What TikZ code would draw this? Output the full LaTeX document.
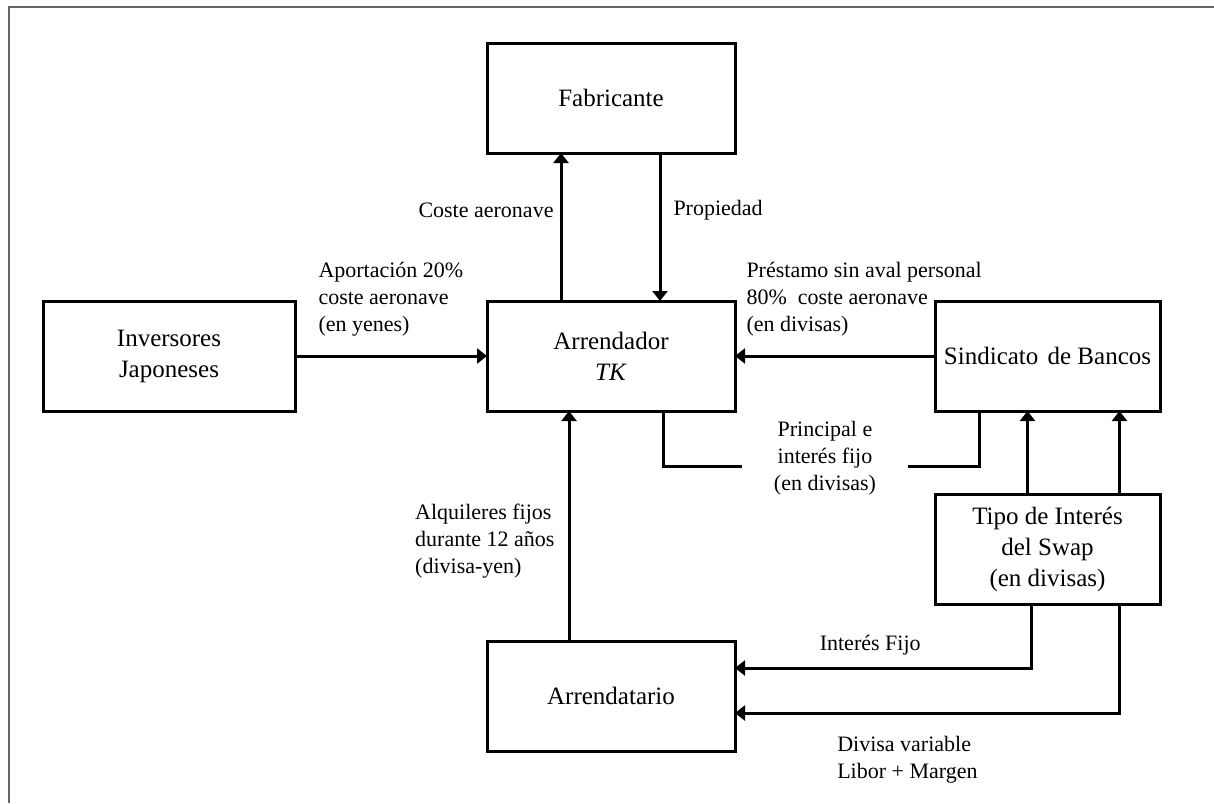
\documentclass[tikz,border=0pt]{standalone}
\usepackage{fontspec}
\setmainfont{Liberation Serif}
\usetikzlibrary{positioning, arrows.meta}

\begin{document}
\begin{tikzpicture}[
        x=1pt, y=-1pt,
        box/.style={draw, line width=3pt, outer sep=0pt, minimum height=110pt,
                    align=center, font=\fontsize{25}{31}\selectfont},
        wbox/.style={box, minimum width=248pt},
        nbox/.style={box, minimum width=225pt},
        lbl/.style={inner sep=0pt, align=left, font=\fontsize{22}{27}\selectfont},
        flow/.style={line width=3pt, -{Triangle[length=10pt, width=15pt]}},
        link/.style={line width=3pt},
        frame/.style={line width=1.8pt, draw=black!60},
    ]
        \useasboundingbox (0,0) rectangle (1214,803);
        \draw[frame] (1214,7) -- (9,7) -- (9,803);

        % centre column: lessor, maker, lessee
        \node[wbox] (arrendador) at (611,356) {Arrendador\\\textit{TK}};
        \node[wbox, above=148pt of arrendador] (fabricante) {Fabricante};
        \node[wbox, below=230pt of arrendador] (arrendatario) {Arrendatario};

        % left: investors
        \node[box, minimum width=252pt, left=192pt of arrendador] (inversores) {Inversores\\Japoneses};

        % right: banks and swap
        \node[nbox, right=200pt of arrendador] (sindicato) {Sindicato\hspace{0.12em} de Bancos};
        \node[nbox, below=83pt of sindicato] (tipo) {Tipo de Interés\\del Swap\\(en divisas)};

        % maker <-> lessor
        \draw[flow] ([xshift=-50pt]arrendador.north) -- ([xshift=-50pt]fabricante.south)
            node[lbl, pos=0.615, anchor=east, xshift=-6pt] {Coste aeronave};
        \draw[flow] ([xshift=49pt]fabricante.south) -- ([xshift=49pt]arrendador.north)
            node[lbl, pos=0.385, anchor=west, xshift=12pt] {Propiedad};

        % equity and loan into the lessor
        \draw[flow] (inversores) -- (arrendador)
            node[lbl, pos=0, anchor=south west, xshift=22pt, yshift=18pt]
            {Aportación 20\%\\coste aeronave\\(en yenes)};
        \draw[flow] (sindicato) -- (arrendador)
            node[lbl, pos=1, anchor=south west, xshift=10pt, yshift=18pt]
            {Préstamo sin aval personal\\80\%~ coste aeronave\\(en divisas)};

        % debt service, split round its label
        \node[lbl, align=center] (principal) at (825,458) {Principal e\\interés fijo\\(en divisas)};
        \coordinate (gapL) at (742,466);
        \coordinate (gapR) at (908,466);
        \draw[link] ([xshift=52pt]arrendador.south) |- (gapL);
        \draw[link] (gapR) -| ([xshift=-68pt]sindicato.south);

        % rents
        \draw[flow] ([xshift=-42pt]arrendatario.north) -- ([xshift=-42pt]arrendador.south)
            node[lbl, pos=0.435, anchor=east, xshift=-13pt]
            {Alquileres fijos\\durante 12 años\\(divisa-yen)};

        % swap legs
        \draw[flow] ([xshift=-20pt]tipo.north) -- ([xshift=-20pt]sindicato.south);
        \draw[flow] ([xshift=72pt]tipo.north) -- ([xshift=72pt]sindicato.south);
        \draw[flow] ([xshift=-16pt]tipo.south) |- ([yshift=28pt]arrendatario.east)
            node[lbl, pos=0.772, anchor=south, yshift=11pt] {Interés Fijo};
        \draw[flow] ([xshift=72pt]tipo.south) |- ([yshift=-17pt]arrendatario.east)
            node[lbl, pos=0.869, anchor=north west, yshift=-22pt]
            {Divisa variable\\Libor + Margen};
\end{tikzpicture}
\end{document}
